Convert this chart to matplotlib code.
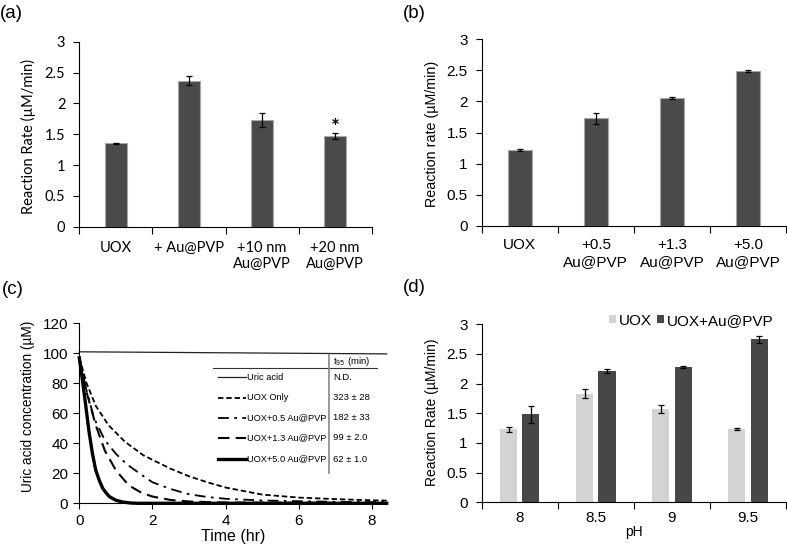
"""Four-panel UOX / Au@PVP figure: reaction rates (a, b, d) and uric acid decay curves (c)."""
import numpy as np
import matplotlib
matplotlib.use("Agg")
import matplotlib.pyplot as plt

plt.rcParams["font.family"] = ["Liberation Sans", "DejaVu Sans"]

W, H = 787, 549
DARK = "#4a4a4a"
LIGHT = "#d3d3d3"

# (a) effect of Au@PVP size
a_labels = ["UOX", "+ Au@PVP", "+10 nm\nAu@PVP", "+20 nm\nAu@PVP"]
a_rate = [1.35, 2.37, 1.73, 1.47]
a_err = [0.01, 0.07, 0.11, 0.05]
a_star = 3

# (b) effect of Au@PVP amount
b_labels = ["UOX", "+0.5\nAu@PVP", "+1.3\nAu@PVP", "+5.0\nAu@PVP"]
b_rate = [1.22, 1.73, 2.05, 2.49]
b_err = [0.01, 0.09, 0.015, 0.015]

# (c) uric acid concentration vs time
ua_t = [0, 8.4]
ua_c = [101, 99.6]
uox_t = [0, 0.2, 0.45, 0.8, 1.25, 1.75, 2, 2.5, 3, 3.5, 4, 5, 6, 7, 8, 8.4]
uox_c = [97, 80, 65, 52, 41, 32, 29, 23, 18, 14, 10.5, 5.8, 3.8, 2.8, 2.0, 1.8]
au05_t = [0, 0.2, 0.4, 0.7, 1.0, 1.3, 1.7, 2, 2.5, 3, 3.5, 4, 5, 6, 7, 8.4]
au05_c = [97, 75, 57, 42, 33, 26, 19, 14, 9.5, 6, 4.2, 3, 1.9, 1.4, 1.0, 0.7]
au13_t = [0, 0.2, 0.45, 0.7, 1.0, 1.35, 1.7, 2, 2.5, 3, 4, 8.4]
au13_c = [97, 74, 52, 35, 22, 12, 7, 4.5, 2.2, 1.2, 0.5, 0.2]
au50_t = [0, 0.07, 0.14, 0.27, 0.36, 0.45, 0.55, 0.64, 0.73, 0.82, 1.0, 1.2, 1.4, 1.6, 8.4]
au50_c = [97, 85, 72, 47, 33, 22, 15, 10, 7, 4.5, 2, 0.8, 0.2, 0, 0]
c_names = ["Uric acid", "UOX Only", "UOX+0.5 Au@PVP", "UOX+1.3 Au@PVP", "UOX+5.0 Au@PVP"]
c_t95 = ["N.D.", "323 \u00b1 28", "182 \u00b1 33", "99 \u00b1 2.0", "62 \u00b1 1.0"]

# (d) pH dependence
ph = ["8", "8.5", "9", "9.5"]
d_uox = [1.23, 1.83, 1.57, 1.24]
d_uox_err = [0.04, 0.08, 0.065, 0.02]
d_au = [1.48, 2.22, 2.28, 2.75]
d_au_err = [0.15, 0.035, 0.015, 0.06]

fig = plt.figure(figsize=(W / 100, H / 100), dpi=100)


def px_axes(l, t, r, b):
    return fig.add_axes([l / W, 1 - b / H, (r - l) / W, (b - t) / H])


def bar_frame(ax, labels, fs, xpad, family=None):
    for s in ("top", "right"):
        ax.spines[s].set_visible(False)
    ax.set_xlim(-0.5, 3.5)
    ax.set_ylim(0, 3)
    ax.set_yticks(np.arange(0, 3.01, 0.5))
    ax.set_yticklabels([f"{v:g}" for v in np.arange(0, 3.01, 0.5)], fontsize=fs, family=family)
    ax.set_xticks(np.arange(-0.5, 4, 1))
    ax.set_xticklabels([])
    ax.set_xticks(range(4), minor=True)
    ax.set_xticklabels(labels, minor=True, fontsize=fs, family=family, linespacing=1.25)
    ax.tick_params(axis="x", which="minor", length=0, pad=xpad)
    ax.tick_params(axis="x", which="major", length=5, width=0.8)
    ax.tick_params(axis="y", length=4, width=0.8, pad=6)


ebar = dict(ecolor="black", capsize=2.5, error_kw=dict(elinewidth=0.9, capthick=0.9))

# ---- (a)
ax = px_axes(79.3, 41.7, 371.7, 226.7)
x = np.arange(len(a_labels))
ax.bar(x, a_rate, 0.31, yerr=a_err, color=DARK, edgecolor="#a8a8a8", linewidth=0.8, **ebar)
ax.text(x[a_star], 1.50, "*", ha="center", va="baseline",
        fontsize=15, fontweight="bold", family="Lato")
bar_frame(ax, a_labels, 10.5, 10, family="Lato")
ax.set_ylabel("Reaction Rate (\u00b5M/min)", fontsize=10.5, family="Lato")
ax.yaxis.label.set_va("center")
ax.yaxis.set_label_coords(-0.175, 0.49)

# ---- (b)
ax = px_axes(481.7, 39.3, 786, 225.7)
x = np.arange(len(b_labels))
ax.bar(x, b_rate, 0.32, yerr=b_err, color=DARK, edgecolor="#a8a8a8", linewidth=0.8, **ebar)
bar_frame(ax, b_labels, 11, 9)
ax.set_ylabel("Reaction rate (\u00b5M/min)", fontsize=10.3)
ax.yaxis.label.set_va("center")
ax.yaxis.set_label_coords(-0.164, 0.494)

# ---- (c)
ax = px_axes(79.3, 323.3, 386.7, 503.3)
styles = [dict(lw=0.9, ls="-", color="#222222"),
          dict(lw=1.3, ls=(0, (3, 1.6)), color="black"),
          dict(lw=1.3, ls=(0, (6, 3, 1.5, 3)), color="black"),
          dict(lw=1.5, ls=(0, (5.5, 3)), color="black"),
          dict(lw=2.4, ls="-", color="black")]
series = [(ua_t, ua_c), (uox_t, uox_c), (au05_t, au05_c), (au13_t, au13_c), (au50_t, au50_c)]
for (tt, cc), st in zip(series, styles):
    ax.plot(tt, cc, clip_on=False, **st)
for s in ("top", "right"):
    ax.spines[s].set_visible(False)
ax.set_xlim(0, 8.4)
ax.set_ylim(0, 120)
ax.set_xticks(range(0, 9, 2))
ax.set_yticks(range(0, 121, 20))
ax.tick_params(labelsize=11, length=4, width=0.8)
ax.tick_params(axis="y", pad=4)
ax.set_xlabel("Time (hr)", fontsize=11.5, labelpad=1)
ax.set_ylabel("Uric acid concentration (\u00b5M)", fontsize=9.8)
ax.yaxis.label.set_va("center")
ax.yaxis.set_label_coords(-0.166, 0.54)

# table-style legend
row_y = [0.70, 0.587, 0.476, 0.364, 0.246]
ax.plot([0.435, 0.968], [0.75, 0.75], transform=ax.transAxes, color="#333333", lw=0.8)
ax.plot([0.813, 0.813], [0.824, 0.168], transform=ax.transAxes, color="#888888", lw=1.2)
ax.text(0.826, 0.787, "t$_{95}$ (min)", transform=ax.transAxes, fontsize=6.8, va="center")
for yy, st, name, t95 in zip(row_y, styles, c_names, c_t95):
    ax.plot([0.451, 0.542], [yy, yy], transform=ax.transAxes, **st)
    ax.text(0.545, yy, name, transform=ax.transAxes, fontsize=6.7, va="center")
    ax.text(0.826, yy, t95, transform=ax.transAxes, fontsize=6.8, va="center")

# ---- (d)
ax = px_axes(481.7, 324.3, 786, 502.3)
x = np.arange(len(ph))
bw, gap = 0.224, 0.07
ax.bar(x - (bw + gap) / 2, d_uox, bw, yerr=d_uox_err, color=LIGHT, label="UOX", **ebar)
ax.bar(x + (bw + gap) / 2, d_au, bw, yerr=d_au_err, color="#474747", label="UOX+Au@PVP", **ebar)
bar_frame(ax, ph, 11, 6)
ax.set_xlabel("pH", fontsize=10, labelpad=0)
ax.set_ylabel("Reaction Rate (\u00b5M/min)", fontsize=10)
ax.yaxis.label.set_va("center")
ax.yaxis.set_label_coords(-0.164, 0.504)
ax.legend(loc="center right", bbox_to_anchor=(0.96, 1.02), ncol=2, frameon=False,
          fontsize=11, handlelength=0.45, handleheight=0.45, handletextpad=0.2,
          columnspacing=0.35, borderpad=0, borderaxespad=0)

# panel letters
for lab, px, py in [("(a)", 0, 13), ("(b)", 403, 13), ("(c)", 2, 290), ("(d)", 403, 287)]:
    fig.text(px / W, 1 - py / H, lab, fontsize=13.5, va="center", ha="left")

fig.savefig("out.png", dpi=100)
